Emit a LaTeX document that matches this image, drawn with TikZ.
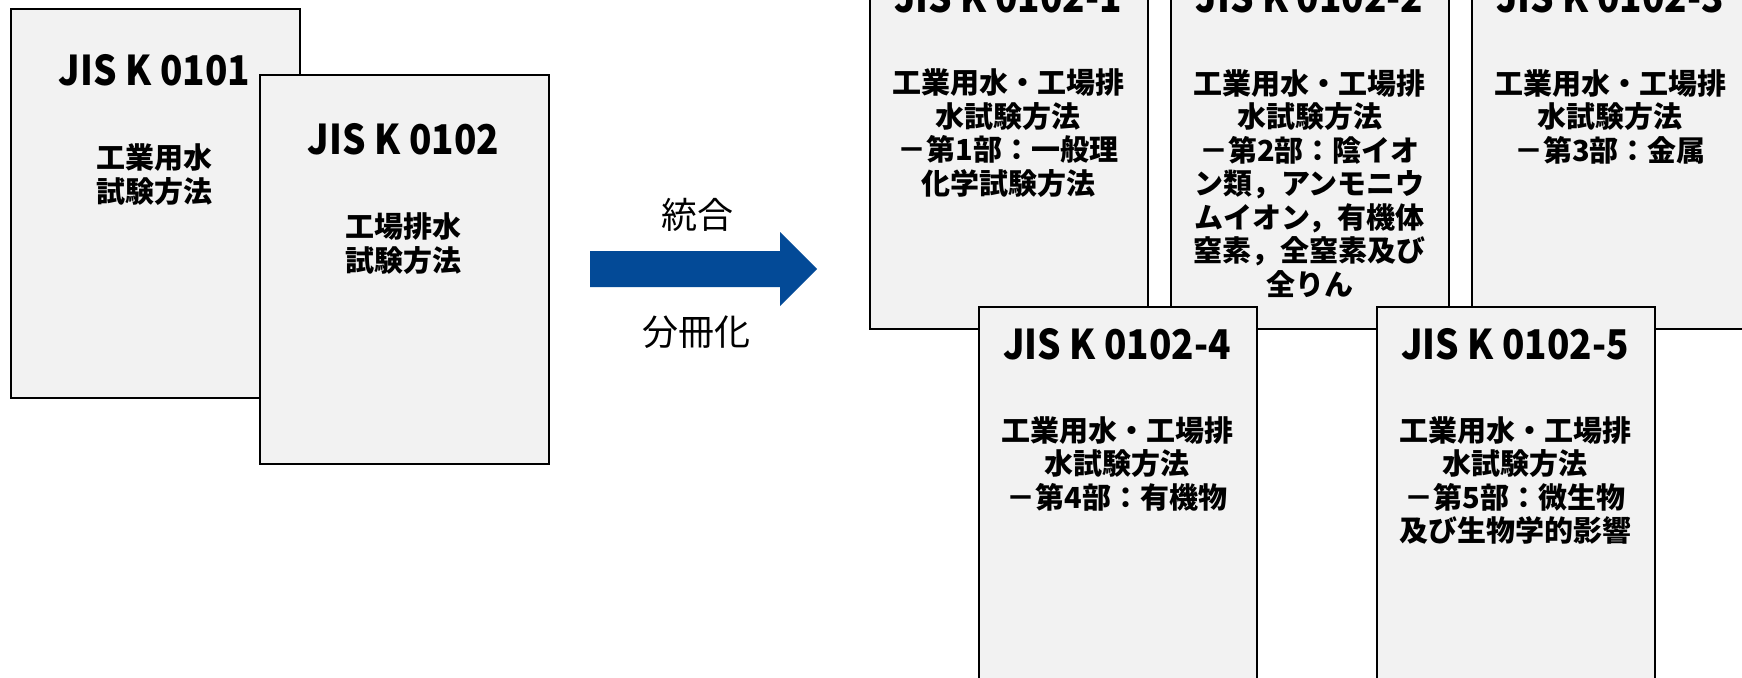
\documentclass[tikz,border=0pt]{standalone}
\usepackage{fontspec}
\setmainfont{Noto Sans CJK JP}
\definecolor{docgray}{HTML}{F2F2F2}
\definecolor{arrowblue}{HTML}{034A97}
\newcommand{\ttltext}[1]{\scalebox{0.9}[1]{#1}}
\begin{document}
\begin{tikzpicture}[x=1pt,y=-1pt,
  doc/.style={draw=black, line width=1.6pt, fill=docgray, minimum width=289pt, minimum height=389pt, inner sep=0pt, anchor=north west},
  part/.style={doc, minimum width=278pt, minimum height=380pt},
  ttl/.style={font=\fontsize{41}{44}\selectfont\bfseries, inner sep=0pt},
  body/.style={font=\fontsize{29}{33.5}\selectfont\bfseries, align=center, inner sep=0pt},
  lbl/.style={font=\fontsize{36}{40}\selectfont, inner sep=0pt}]
\useasboundingbox (0,0) rectangle (1742,677);
\clip (0,0) rectangle (1742,677);
% left documents
\node[doc] (a) at (10,8) {};
\node[ttl] (at) at (154.5,70) {\ttltext{JIS K 0101}};
\node[body] (ab) at (154.5,174.5) {工業用水\\試験方法};
\node[doc] (b) at (259,74) {};
\node[ttl] (bt) at (403.5,139) {\ttltext{JIS K 0102}};
\node[body] (bb) at (403.5,243.5) {工場排水\\試験方法};
% arrow
\fill[arrowblue] (590,251) -- (780,251) -- (780,232) -- (817,269) -- (780,306) -- (780,287) -- (590,287) -- cycle;
\node[lbl] (l1) at (697,215) {統合};
\node[lbl] (l2) at (696,332) {分冊化};
% right documents, upper row
\node[part] (p1) at (869,-52) {};
\node[ttl] (p1t) at (1008,-3) {\ttltext{JIS K 0102-1}};
\node[body] (p1b) at (1008,133.25) {工業用水・工場排\\水試験方法\\－第1部：一般理\\化学試験方法};
\node[part] (p2) at (1170,-52) {};
\node[ttl] (p2t) at (1309.5,-3) {\ttltext{JIS K 0102-2}};
\node[body] (p2b) at (1309.5,183.5) {工業用水・工場排\\水試験方法\\－第2部：陰イオ\\ン類，アンモニウ\\ムイオン，有機体\\窒素，全窒素及び\\全りん};
\node[part] (p3) at (1471,-52) {};
\node[ttl] (p3t) at (1610,-3) {\ttltext{JIS K 0102-3}};
\node[body] (p3b) at (1610,116.5) {工業用水・工場排\\水試験方法\\－第3部：金属};
% lower row
\node[part] (p4) at (978,306) {};
\node[ttl] (p4t) at (1117,344) {\ttltext{JIS K 0102-4}};
\node[body] (p4b) at (1117,463.5) {工業用水・工場排\\水試験方法\\－第4部：有機物};
\node[part] (p5) at (1376,306) {};
\node[ttl] (p5t) at (1515,344) {\ttltext{JIS K 0102-5}};
\node[body] (p5b) at (1515,480.25) {工業用水・工場排\\水試験方法\\－第5部：微生物\\及び生物学的影響};
\end{tikzpicture}
\end{document}
